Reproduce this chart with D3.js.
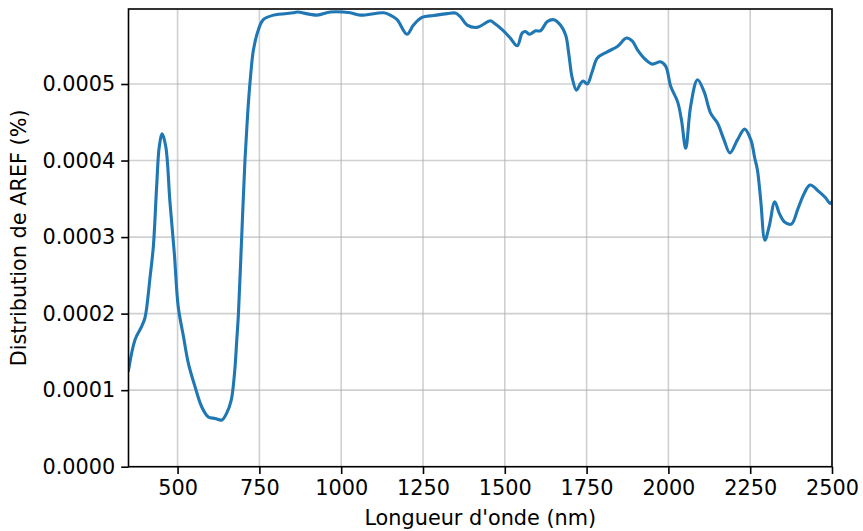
<!DOCTYPE html>
<html>
<head>
<meta charset="utf-8">
<script src="https://cdn.jsdelivr.net/npm/d3@7"></script>
<style>
  html, body { margin: 0; padding: 0; background: #fff; }
  svg { display: block; }
  text { font-family: "DejaVu Sans", sans-serif; fill: #000; }
</style>
</head>
<body>
<svg id="chart" width="863" height="531"></svg>
<script>
// Wavelength (nm)
const wavelengths = [350, 370, 390, 400, 406, 416, 426, 436, 444, 453, 464, 477, 490, 502, 518, 533, 553, 574, 594, 615, 635, 650, 664, 674, 681, 686, 696, 706, 714, 722, 732, 747, 762, 793, 854, 865, 926, 967, 1028, 1058, 1130, 1150, 1171, 1201, 1221, 1247, 1283, 1324, 1349, 1364, 1385, 1415, 1456, 1466, 1492, 1517, 1538, 1553, 1563, 1576, 1594, 1609, 1630, 1650, 1670, 1686, 1696, 1706, 1719, 1732, 1740, 1752, 1767, 1783, 1813, 1844, 1872, 1890, 1905, 1930, 1951, 1976, 1992, 2007, 2028, 2040, 2053, 2068, 2089, 2109, 2129, 2150, 2170, 2188, 2211, 2233, 2252, 2264, 2272, 2282, 2295, 2308, 2325, 2339, 2354, 2376, 2395, 2415, 2433, 2461, 2481, 2494, 2500];
// AREF distribution (x 1e-4 %)
const arefValues = [1.26, 1.66, 1.83, 1.94, 2.09, 2.48, 2.88, 3.66, 4.18, 4.35, 4.18, 3.44, 2.79, 2.09, 1.70, 1.35, 1.05, 0.78, 0.65, 0.63, 0.61, 0.70, 0.87, 1.22, 1.66, 2.0, 3.01, 4.01, 4.6, 5.05, 5.45, 5.71, 5.84, 5.90, 5.93, 5.94, 5.90, 5.94, 5.93, 5.90, 5.93, 5.90, 5.84, 5.65, 5.77, 5.87, 5.895, 5.92, 5.927, 5.88, 5.77, 5.74, 5.826, 5.80, 5.71, 5.60, 5.50, 5.665, 5.686, 5.65, 5.695, 5.695, 5.817, 5.84, 5.77, 5.64, 5.38, 5.08, 4.92, 5.01, 5.04, 5.0, 5.16, 5.34, 5.42, 5.49, 5.60, 5.56, 5.45, 5.32, 5.26, 5.29, 5.23, 4.97, 4.77, 4.53, 4.16, 4.71, 5.055, 4.90, 4.62, 4.49, 4.27, 4.10, 4.27, 4.41, 4.27, 4.03, 3.88, 3.49, 2.96, 3.14, 3.46, 3.31, 3.20, 3.17, 3.36, 3.57, 3.68, 3.59, 3.51, 3.44, 3.46];
const xTicks = [500, 750, 1000, 1250, 1500, 1750, 2000, 2250, 2500];
const yTicks = [0, 0.0001, 0.0002, 0.0003, 0.0004, 0.0005];
const xLabel = "Longueur d'onde (nm)";
const yLabel = "Distribution de AREF (%)";

const data = wavelengths.map((w, i) => ({ x: w, y: arefValues[i] * 1e-4 }));

const L = 128.5, R = 832, T = 9, B = 466.7;
const svg = d3.select("#chart");
const x = d3.scaleLinear().domain([350, 2500]).range([L, R]);
const y = d3.scaleLinear().domain([0, 0.000598]).range([B, T]);
const fs = 20.8;

// grid
const grid = svg.append("g");
grid.selectAll(".gx").data(xTicks).enter().append("line")
  .attr("x1", d => x(d)).attr("x2", d => x(d)).attr("y1", T).attr("y2", B)
  .attr("stroke", "#b0b0b0").attr("stroke-opacity", 0.6).attr("stroke-width", 1.6);
grid.selectAll(".gy").data(yTicks).enter().append("line")
  .attr("x1", L).attr("x2", R).attr("y1", d => y(d)).attr("y2", d => y(d))
  .attr("stroke", "#b0b0b0").attr("stroke-opacity", 0.6).attr("stroke-width", 1.6);

// line
const line = d3.line().x(d => x(d.x)).y(d => y(d.y)).curve(d3.curveCatmullRom.alpha(0.5));
svg.append("defs").append("clipPath").attr("id", "clip")
  .append("rect").attr("x", L).attr("y", T).attr("width", R - L).attr("height", B - T);
svg.append("path").datum(data).attr("d", line).attr("clip-path", "url(#clip)")
  .attr("fill", "none").attr("stroke", "#1f77b4").attr("stroke-width", 3.1)
  .attr("stroke-linejoin", "round").attr("stroke-linecap", "square");

// axes
const xAxis = d3.axisBottom(x).tickValues(xTicks).tickSize(7.3).tickPadding(6).tickFormat(d3.format("d"));
const yAxis = d3.axisLeft(y).tickValues(yTicks).tickSize(7.3).tickPadding(6).tickFormat(d3.format(".4f"));
const gx = svg.append("g").attr("transform", `translate(0,${B})`).call(xAxis);
const gy = svg.append("g").attr("transform", `translate(${L},0)`).call(yAxis);
[gx, gy].forEach(g => {
  g.select(".domain").remove();
  g.selectAll(".tick line").attr("stroke", "#000").attr("stroke-width", 1.6);
  g.selectAll(".tick text").attr("font-size", fs).attr("font-family", "DejaVu Sans").attr("fill", "#000");
});

// frame
svg.append("rect").attr("x", L).attr("y", T).attr("width", R - L).attr("height", B - T)
  .attr("fill", "none").attr("stroke", "#000").attr("stroke-width", 1.6);

// labels
svg.append("text").attr("x", (L + R) / 2).attr("y", 525).attr("text-anchor", "middle")
  .attr("font-size", fs).text(xLabel);
svg.append("text").attr("transform", `translate(26,${(T + B) / 2}) rotate(-90)`)
  .attr("text-anchor", "middle").attr("font-size", fs).text(yLabel);
</script>
</body>
</html>
